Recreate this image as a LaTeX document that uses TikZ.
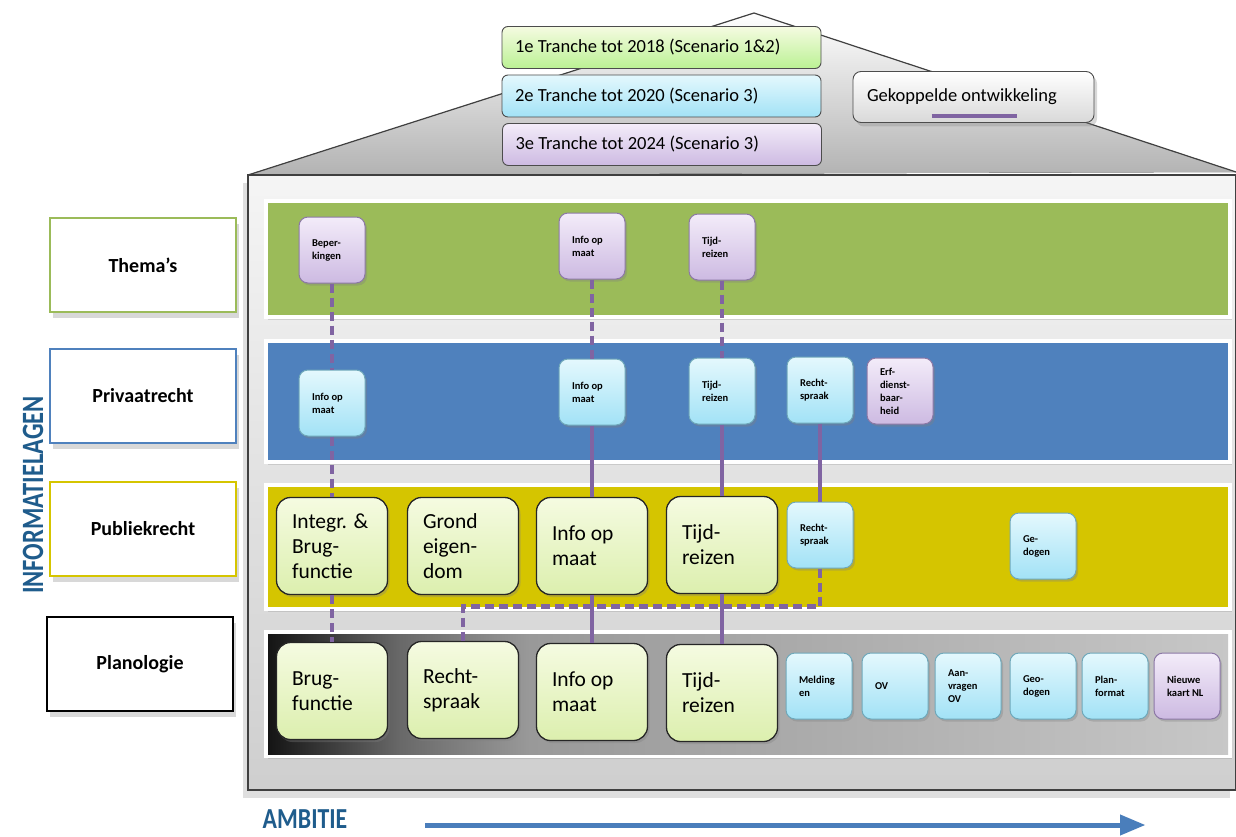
\documentclass[tikz,border=0pt]{standalone}
\usepackage{fontspec}
\setmainfont{Carlito}
\usepackage{tikz}
\usetikzlibrary{arrows,shadows}
\definecolor{bandgreen}{HTML}{9BBB59}
\definecolor{bandblue}{HTML}{4F81BD}
\definecolor{bandyellow}{HTML}{D5C500}
\definecolor{lnkpurple}{HTML}{8064A2}
\definecolor{capblue}{HTML}{1F5C8C}
\definecolor{ambblue}{HTML}{4A7EBB}
\definecolor{gtop}{HTML}{F5FBE1}
\definecolor{gbot}{HTML}{DCEFAE}
\definecolor{ctop}{HTML}{E4F8FD}
\definecolor{cbot}{HTML}{A2E2F6}
\definecolor{cline}{HTML}{6FA8BA}
\definecolor{ptop}{HTML}{F3ECF9}
\definecolor{pbot}{HTML}{CDBAE2}
\definecolor{pline}{HTML}{8C78A6}
\tikzstyle{lbl_box} = [rectangle, fill=white, line width=2pt, minimum width=186pt, minimum height=94pt, font=\fontsize{20}{24}\selectfont\bfseries, drop shadow={opacity=0.3, shadow xshift=3pt, shadow yshift=-6pt}]
\tikzstyle{sm_c} = [rectangle, rounded corners=9pt, draw=cline, line width=1pt, top color=ctop, bottom color=cbot, minimum width=66pt, minimum height=66pt, text width=40pt, align=flush left, font=\fontsize{10.5}{13}\selectfont\bfseries, drop shadow={opacity=0.35, shadow xshift=2pt, shadow yshift=-2.5pt}]
\tikzstyle{sm_p} = [sm_c, draw=pline, top color=ptop, bottom color=pbot]
\tikzstyle{big_g} = [rectangle, rounded corners=14pt, draw=black!85, line width=1.3pt, top color=gtop, bottom color=gbot, minimum width=111pt, minimum height=97pt, text width=80pt, align=flush left, font=\fontsize{21.5}{25}\selectfont, drop shadow={opacity=0.35, shadow xshift=2pt, shadow yshift=-2.5pt}]
\tikzstyle{tr_box} = [rectangle, rounded corners=6pt, draw=black!70, line width=0.9pt, minimum width=319pt, minimum height=42pt, text width=293pt, align=flush left, font=\fontsize{18.5}{22}\selectfont]
\tikzstyle{band} = [draw=white, line width=4pt, drop shadow={opacity=0.25, shadow xshift=2pt, shadow yshift=-3pt}]
\tikzstyle{lnk_s} = [draw=lnkpurple, line width=4pt]
\tikzstyle{lnk_d} = [draw=lnkpurple, line width=4.5pt, dash pattern=on 9pt off 5pt]

\begin{document}
\begin{tikzpicture}[x=1pt,y=-1pt]
\fill[white] (0,0) rectangle (1236,837);
\useasboundingbox (0,0) rectangle (1236,837);

\fill[top color=white, bottom color=black!30] (248,175) -- (754,13) -- (1236,172) -- cycle;
\draw[black!75, line width=1.2pt] (248,175) -- (754,13) -- (1236,172);
\filldraw[draw=black!75, line width=1.2pt, top color=black!4, bottom color=black!19, drop shadow={opacity=0.25, shadow xshift=-5pt, shadow yshift=-8pt}] (248,175) rectangle (1235.4,790);

\draw[band, fill=bandgreen] (266,201) rectangle (1230,317);
\draw[band, fill=bandblue] (266,341) rectangle (1230,462);
\draw[band, fill=bandyellow] (266,485) rectangle (1230,609);
\draw[band, fill=black!22] (266,632) rectangle (1230,756);
\fill[left color=black!92, right color=black!59] (268,634) rectangle (400,754);
\fill[left color=black!59, right color=black!40] (400,634) rectangle (530,754);
\fill[left color=black!40, right color=black!22] (530,634) rectangle (1228,754);

\node [tr_box, top color=gtop, bottom color=gbot!85!green] (tr1) at (661.5,47.5) {1e Tranche tot 2018 (Scenario 1\&2)};
\node [tr_box, top color=ctop, bottom color=cbot] (tr2) at (661.5,96) {2e Tranche tot 2020 (Scenario 3)};
\node [tr_box, top color=ptop, bottom color=pbot] (tr3) at (662,144.5) {3e Tranche tot 2024 (Scenario 3)};
\node [tr_box, rounded corners=8pt, minimum width=241pt, minimum height=51pt, text width=213pt, top color=white, bottom color=black!15, drop shadow={opacity=0.3, shadow xshift=3pt, shadow yshift=-4pt}] (gek) at (973.5,97) {Gekoppelde ontwikkeling};
\draw[lnk_s] (gek.south) ++(-42,-7) -- ++(85,0);

\node [lbl_box, draw=bandgreen] (lblThema) at (143,265) {Thema's};
\node [lbl_box, draw=bandblue] (lblPriv) at (143,396) {Privaatrecht};
\node [lbl_box, draw=bandyellow] (lblPubl) at (143,529) {Publiekrecht};
\node [lbl_box, draw=black] (lblPlan) at (140,664) {Planologie};
\node [rotate=90, text=capblue] (infoLagen) at (33,495) {\fontsize{31}{36}\selectfont\bfseries\scalebox{0.79}[1]{INFORMATIELAGEN}};

\node [sm_p] (tBep) at (332,250) {Beper-\\kingen};
\node [sm_p] (tInfo) at (592,246) {Info op\\maat};
\node [sm_p] (tTijd) at (722,247) {Tijd-\\reizen};

\node [sm_c] (pInfoA) at (332,403) {Info op\\maat};
\node [sm_c] (pInfoB) at (592,392) {Info op\\maat};
\node [sm_c] (pTijd) at (722,391) {Tijd-\\reizen};
\node [sm_c] (pRecht) at (820,390) {Recht-\\spraak};
\node [sm_p] (pErf) at (900,391) {Erf-\\dienst-\\baar-\\heid};

\node [big_g] (uIntegr) at (332,546) {Integr. \&\\Brug-\\functie};
\node [big_g] (uGrond) at (463,546) {Grond\\eigen-\\dom};
\node [big_g] (uInfo) at (592,546) {Info op\\maat};
\node [big_g] (uTijd) at (722,545) {Tijd-\\reizen};
\node [sm_c] (uRecht) at (820,535) {Recht-\\spraak};
\node [sm_c] (uGedo) at (1043,546) {Ge-\\dogen};

\node [big_g] (lBrug) at (332,691) {Brug-\\functie};
\node [big_g] (lRecht) at (463,690) {Recht-\\spraak};
\node [big_g] (lInfo) at (592,692) {Info op\\maat};
\node [big_g] (lTijd) at (722,693) {Tijd-\\reizen};
\node [sm_c] (lMeld) at (819,686) {Melding\\en};
\node [sm_c] (lOV) at (895,686) {OV};
\node [sm_c] (lAanv) at (968,686) {Aan-\\vragen\\OV};
\node [sm_c] (lGeo) at (1043,686) {Geo-\\dogen};
\node [sm_c] (lPlan) at (1115,686) {Plan-\\format};
\node [sm_p] (lNieuw) at (1187,686) {Nieuwe\\kaart NL};

\draw[lnk_d] (tBep) -- (pInfoA);
\draw[lnk_d] (pInfoA) -- (uIntegr);
\draw[lnk_d] (uIntegr) -- (lBrug);
\draw[lnk_d] (tInfo) -- (pInfoB);
\draw[lnk_s] (pInfoB) -- (uInfo);
\draw[lnk_s] (uInfo) -- (lInfo);
\draw[lnk_d] (tTijd) -- (pTijd);
\draw[lnk_s] (pTijd) -- (uTijd);
\draw[lnk_s] (uTijd) -- (lTijd);
\draw[lnk_s] (pRecht) -- (uRecht);
\draw[lnk_d] (uRecht.south) -- ++(0,38) -| (lRecht.north);

\node [text=capblue] (ambitie) at (305,819) {\fontsize{29}{32}\selectfont\bfseries\scalebox{0.82}[1]{AMBITIE}};
\coordinate (ambL) at (425,825);
\coordinate (ambR) at (1145,825);
\draw[-triangle 45, line width=5pt, ambblue] (ambL) -- (ambR);
\end{tikzpicture}
\end{document}
